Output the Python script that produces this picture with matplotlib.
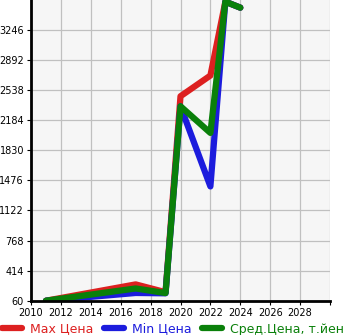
import matplotlib
matplotlib.use('Agg')
import matplotlib.pyplot as plt
from matplotlib.lines import Line2D

# values
years = [2011, 2017, 2019, 2020, 2022, 2023, 2024]
max_price = [60, 252, 160, 2467, 2711, 3580, 3510]
min_price = [60, 151, 147, 2349, 1405, 3580, 3510]
avg_price = [60, 204, 150, 2349, 2035, 3580, 3510]

y_ticks = [60, 414, 768, 1122, 1476, 1830, 2184, 2538, 2892, 3246]
x_ticks = list(range(2010, 2030, 2))

red = '#dd2020'
blue = '#1c1cdd'
green = '#0a800a'

fig = plt.figure(figsize=(3.45, 3.35), dpi=100)
ax = fig.add_axes([31 / 345, 1 - 300.7 / 335, 299 / 345, 300.7 / 335])
ax.set_facecolor('#f6f6f6')

ax.plot(years, max_price, color=red, lw=4.5, solid_capstyle='round')
ax.plot(years, min_price, color=blue, lw=4.5, solid_capstyle='round')
ax.plot(years, avg_price, color=green, lw=4.5, solid_capstyle='round')

ax.set_xlim(2010, 2030)
ax.set_ylim(60, 3600)
ax.set_xticks(x_ticks + [2030])
ax.set_xticklabels([str(x) for x in x_ticks] + [''])
ax.set_yticks(y_ticks)
ax.set_yticklabels([str(y) for y in y_ticks])
ax.grid(True, color='#c0c0c0', lw=0.9)
ax.set_axisbelow(True)

for s in ['top', 'right']:
    ax.spines[s].set_visible(False)
for s in ['left', 'bottom']:
    ax.spines[s].set_linewidth(2)
ax.tick_params(axis='both', labelsize=7, length=3, width=0.8, pad=2)

handles = [Line2D([], [], color=c, lw=4.5, solid_capstyle='round') for c in (red, blue, green)]
labels = ['Max Цена', 'Min Цена', 'Сред.Цена, т.йен']
leg = fig.legend(handles, labels, loc='center left', bbox_to_anchor=(0.006, 6 / 335),
                 ncol=3, frameon=False, fontsize=9, handlelength=1.6,
                 handletextpad=0.63, columnspacing=0.86, borderpad=0, borderaxespad=0)
for t, c in zip(leg.get_texts(), (red, blue, green)):
    t.set_color(c)

fig.savefig('out.png', dpi=100)
